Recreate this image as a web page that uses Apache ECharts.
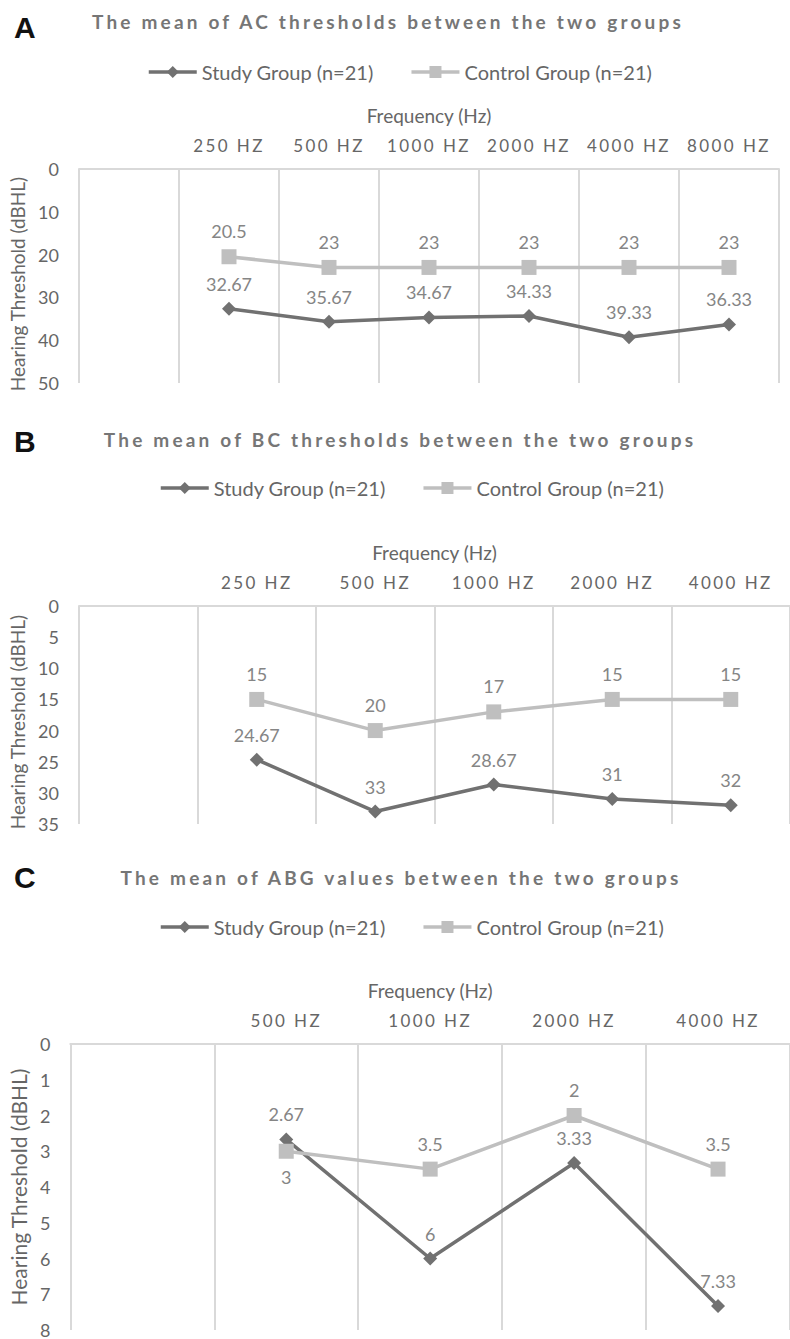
<!DOCTYPE html>
<html><head><meta charset="utf-8">
<script src="https://cdn.jsdelivr.net/npm/echarts@6/dist/echarts.min.js"></script>
<style>html,body{margin:0;padding:0;background:#fff}#c{width:790px;height:1339px}</style>
</head><body><div id="c"></div><script>
// ---- data ----
const studyName = 'Study Group (n=21)';
const controlName = 'Control Group (n=21)';
const panelLetters = ['A', 'B', 'C'];
const panelTitles = [
  'The mean of AC thresholds between the two groups',
  'The mean of BC thresholds between the two groups',
  'The mean of ABG values between the two groups'
];
const xAxisName = 'Frequency (Hz)';
const yAxisName = 'Hearing Threshold (dBHL)';

const acFreq = ['', '250 HZ', '500 HZ', '1000 HZ', '2000 HZ', '4000 HZ', '8000 HZ'];
const acStudy = [null, 32.67, 35.67, 34.67, 34.33, 39.33, 36.33];
const acControl = [null, 20.5, 23, 23, 23, 23, 23];
const acYMax = 50, acYStep = 10;

const bcFreq = ['', '250 HZ', '500 HZ', '1000 HZ', '2000 HZ', '4000 HZ'];
const bcStudy = [null, 24.67, 33, 28.67, 31, 32];
const bcControl = [null, 15, 20, 17, 15, 15];
const bcYMax = 35, bcYStep = 5;

const abgFreq = ['', '500 HZ', '1000 HZ', '2000 HZ', '4000 HZ'];
const abgStudy = [null, 2.67, 6, 3.33, 7.33];
const abgControl = [null, 3, 3.5, 2, 3.5];
const abgYMax = 8, abgYStep = 1;

// ---- styles / layout ----
const FONT = 'Lato';
const STUDY_C = '#717171';
const CONTROL_C = '#bfbfbf';
const GRID_C = '#d9d9d9';
const TEXT_C = '#666666';
const LABEL_C = '#858585';

const panels = [
  {freq: acFreq, study: acStudy, control: acControl, max: acYMax, step: acYStep,
   grid: {left: 79, right: 11, top: 169, height: 214},
   legendLeft: 147, legendTop: 62, titleX: 388, titleY: 21, letterY: 27, yNameGap: 50, yNamePad: 16, yNameSize: 19, below: []},
  {freq: bcFreq, study: bcStudy, control: bcControl, max: bcYMax, step: bcYStep,
   grid: {left: 79, right: -13, top: 606, height: 218},
   legendLeft: 159, legendTop: 478, titleX: 400, titleY: 439, letterY: 441, yNameGap: 50, yNamePad: 14, yNameSize: 19, below: []},
  {freq: abgFreq, study: abgStudy, control: abgControl, max: abgYMax, step: abgYStep,
   grid: {left: 69, right: -13, top: 1044, height: 292},
   legendLeft: 159, legendTop: 917, titleX: 401, titleY: 877, letterY: 877, yNameGap: 38, yNamePad: 0, yNameSize: 21, below: [1]}
];

const option = {
  animation: false,
  backgroundColor: '#fff',
  title: [], legend: [], grid: [], xAxis: [], yAxis: [], series: []
};

panels.forEach((p, i) => {
  option.title.push({
    text: panelLetters[i], left: 14, top: p.letterY, textVerticalAlign: 'middle', padding: 0,
    textStyle: {fontFamily: 'Liberation Sans', fontWeight: 'bold', fontSize: 30, color: '#111'}
  });
  option.title.push({
    text: panelTitles[i], left: p.titleX, top: p.titleY, textAlign: 'center', textVerticalAlign: 'middle', padding: 0,
    textStyle: {fontFamily: FONT, fontWeight: 'bold', fontSize: 19, color: '#767676'}
  });
  option.legend.push({
    data: [studyName, controlName], left: p.legendLeft, top: p.legendTop, padding: 0,
    itemWidth: 48, itemHeight: 15, itemGap: 36, selectedMode: false,
    lineStyle: {width: 3.5},
    textStyle: {fontFamily: FONT, fontSize: 20, color: TEXT_C}
  });
  option.grid.push(Object.assign({containLabel: false}, p.grid));
  option.xAxis.push({
    type: 'category', gridIndex: i, position: 'top', data: p.freq, boundaryGap: true,
    name: xAxisName, nameLocation: 'middle', nameGap: 44,
    nameTextStyle: {fontFamily: FONT, fontSize: 19, color: TEXT_C},
    axisLine: {show: true, lineStyle: {color: GRID_C, width: 2}},
    axisTick: {show: false},
    axisLabel: {interval: 0, margin: 15, fontFamily: FONT, fontSize: 17, color: TEXT_C},
    splitLine: {show: true, interval: 0, lineStyle: {color: GRID_C, width: 2}}
  });
  option.yAxis.push({
    type: 'value', gridIndex: i, inverse: true, min: 0, max: p.max, interval: p.step,
    name: yAxisName, nameLocation: 'middle', nameGap: p.yNameGap, nameRotate: 90,
    nameTextStyle: {fontFamily: FONT, fontSize: p.yNameSize, color: TEXT_C, padding: [0, p.yNamePad, 0, 0]},
    axisLine: {show: false}, axisTick: {show: false}, splitLine: {show: false},
    axisLabel: {margin: 20, fontFamily: FONT, fontSize: 18, color: TEXT_C}
  });
  const mk = (name, vals, isStudy) => ({
    type: 'line', name, xAxisIndex: i, yAxisIndex: i,
    data: vals.map((v, k) => (!isStudy && p.below.includes(k)) ? {value: v, label: {position: 'bottom'}} : v),
    symbol: isStudy ? 'diamond' : 'rect', symbolSize: isStudy ? 14 : 15,
    lineStyle: {color: isStudy ? STUDY_C : CONTROL_C, width: 3.5},
    itemStyle: {color: isStudy ? STUDY_C : CONTROL_C},
    label: {show: true, position: 'top', distance: 9, fontFamily: FONT, fontSize: 18, color: LABEL_C},
    z: isStudy ? 3 : 4
  });
  option.series.push(mk(studyName, p.study, true));
  option.series.push(mk(controlName, p.control, false));
});

const chart = echarts.init(document.getElementById('c'), null, {renderer: 'svg', width: 790, height: 1339});
chart.setOption(option);

// letter spacing for title and category labels (as in the reference)
const spacing = new Map();
panelTitles.forEach(t => spacing.set(t, 3.2));
[acFreq, bcFreq, abgFreq].forEach(a => a.forEach(t => { if (t) spacing.set(t, 2.4); }));
function applySpacing() {
  document.querySelectorAll('#c text').forEach(t => {
    const s = spacing.get(t.textContent);
    if (s != null) t.style.letterSpacing = s + 'px';
  });
}
applySpacing();
chart.on('finished', applySpacing);
</script></body></html>
